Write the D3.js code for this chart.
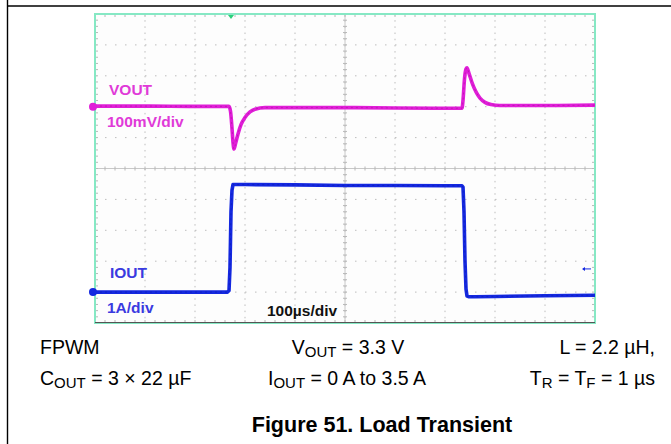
<!DOCTYPE html>
<html><head><meta charset="utf-8">
<script src="https://cdn.jsdelivr.net/npm/d3@7"></script>
<style>
html,body{margin:0;padding:0;background:#fff;}
svg{display:block;font-family:"Liberation Sans",Arial,sans-serif;}
</style></head>
<body>
<svg id="chart" width="671" height="444"></svg>
<script>
// ---- data ----
const voutTimeUs = [0, 100, 200, 268, 271, 274, 276, 278, 281, 286, 292, 300, 310, 320, 340, 400, 500, 600, 700, 734, 736, 739, 742, 744, 748, 754, 762, 770, 780, 792, 810, 850, 900, 1000];
const voutDevMv  = [2, 2, 1, 1, -15, -70, -115, -137, -120, -88, -58, -35, -17, -8, -3, -3, -3, -4, -5, -5, 20, 90, 122, 126, 108, 78, 48, 28, 14, 7, 4, 4, 4, 5];
const ioutTimeUs = [0, 100, 200, 265, 268, 270, 272, 274, 276, 300, 400, 500, 600, 700, 734, 736, 738, 740, 742, 744, 748, 760, 800, 900, 1000];
const ioutA      = [0, 0, 0, 0, 0.05, 0.8, 2.6, 3.3, 3.48, 3.48, 3.47, 3.45, 3.45, 3.44, 3.44, 3.4, 2.6, 1.0, 0.1, -0.13, -0.15, -0.15, -0.14, -0.12, -0.1];
const timeTicksUs = [0, 100, 200, 300, 400, 500, 600, 700, 800, 900, 1000];
const divTicks = [0, 1, 2, 3, 4, 5, 6, 7, 8, 9, 10];
const voutOffsetDiv = 3;      // VOUT reference marker position (divisions from top)
const ioutOffsetDiv = 9;      // IOUT zero marker position
const mvPerDiv = 100;
const aPerDiv = 1;
const triggerTimeUs = 272;
const triggerLevelA = 0.75;
const traceLabels = [
  {text: "VOUT", ch: "v", dx: 14, y: 95},
  {text: "100mV/div", ch: "v", dx: 12, y: 127},
  {text: "IOUT", ch: "i", dx: 15, y: 278},
  {text: "1A/div", ch: "i", dx: 12, y: 313}
];
const timebaseLabel = "100µs/div";

const svg = d3.select("#chart");
const L = 95, R = 595, T = 14, B = 323;
const x = d3.scaleLinear().domain([0, 1000]).range([L, R]);
const yd = d3.scaleLinear().domain([0, 10]).range([T, B]);
const yV = mv => yd(voutOffsetDiv - mv / mvPerDiv);
const yI = a => yd(ioutOffsetDiv - a / aPerDiv);

const MAG = "#e01ed8", BLUE = "#1428e0", FRAME = "#86e8c4", GRID = "#bdbdbd";

// page border
svg.append("line").attr("x1", 7).attr("x2", 671).attr("y1", 6).attr("y2", 6).attr("stroke", "#000").attr("stroke-width", 1.6);
svg.append("line").attr("x1", 7.5).attr("x2", 7.5).attr("y1", 0).attr("y2", 444).attr("stroke", "#000").attr("stroke-width", 1.4);

const g = svg.append("g");
g.append("rect").attr("x", L).attr("y", T).attr("width", R - L).attr("height", B - T).attr("fill", "#fdfdfd");

// dotted grid
g.selectAll(".vg").data(timeTicksUs.slice(1, -1)).join("line")
  .attr("x1", d => x(d)).attr("x2", d => x(d)).attr("y1", T).attr("y2", B)
  .attr("stroke", GRID).attr("stroke-width", 1).attr("stroke-dasharray", "1.5,4.68");
g.selectAll(".hg").data(divTicks.slice(1, -1)).join("line")
  .attr("x1", L).attr("x2", R).attr("y1", d => yd(d)).attr("y2", d => yd(d))
  .attr("stroke", GRID).attr("stroke-width", 1).attr("stroke-dasharray", "1.5,8.5");

// center axes with minor ticks
g.append("line").attr("x1", x(500)).attr("x2", x(500)).attr("y1", T).attr("y2", B).attr("stroke", "#c8c8c8").attr("stroke-width", 1);
g.append("line").attr("x1", L).attr("x2", R).attr("y1", yd(5)).attr("y2", yd(5)).attr("stroke", "#c8c8c8").attr("stroke-width", 1);
const minorX = d3.range(0, 1001, 20);
const minorY = d3.range(0, 10.01, 0.2);
g.selectAll(".mx").data(minorX).join("line")
  .attr("x1", d => x(d)).attr("x2", d => x(d)).attr("y1", yd(5) - 2).attr("y2", yd(5) + 2).attr("stroke", "#b8b8b8");
g.selectAll(".my").data(minorY).join("line")
  .attr("x1", x(500) - 2).attr("x2", x(500) + 2).attr("y1", d => yd(d)).attr("y2", d => yd(d)).attr("stroke", "#b8b8b8");
g.selectAll(".ex").data(minorX).join("line")
  .attr("x1", d => x(d)).attr("x2", d => x(d)).attr("y1", T).attr("y2", T + 3).attr("stroke", "#b8b8b8");
g.selectAll(".ex2").data(minorX).join("line")
  .attr("x1", d => x(d)).attr("x2", d => x(d)).attr("y1", B - 3).attr("y2", B).attr("stroke", "#b8b8b8");
g.selectAll(".ey").data(minorY).join("line")
  .attr("x1", L).attr("x2", L + 3).attr("y1", d => yd(d)).attr("y2", d => yd(d)).attr("stroke", "#b8b8b8");
g.selectAll(".ey2").data(minorY).join("line")
  .attr("x1", R - 3).attr("x2", R).attr("y1", d => yd(d)).attr("y2", d => yd(d)).attr("stroke", "#b8b8b8");

// frame
g.append("rect").attr("x", L).attr("y", T).attr("width", R - L).attr("height", B - T)
  .attr("fill", "none").attr("stroke", FRAME).attr("stroke-width", 2);
g.append("line").attr("x1", L).attr("x2", R).attr("y1", B - 0.5).attr("y2", B - 0.5).attr("stroke", "#555").attr("stroke-width", 1);

// traces
const vData = voutTimeUs.map((t, i) => [t, voutDevMv[i]]);
const iData = ioutTimeUs.map((t, i) => [t, ioutA[i]]);
const lineV = d3.line().x(d => x(d[0])).y(d => yV(d[1])).curve(d3.curveMonotoneX);
const lineI = d3.line().x(d => x(d[0])).y(d => yI(d[1])).curve(d3.curveLinear);
g.append("path").datum(vData).attr("d", lineV).attr("fill", "none").attr("stroke", MAG).attr("stroke-width", 3.6).attr("stroke-linejoin", "round");
g.append("path").datum(vData).attr("d", lineV).attr("fill", "none").attr("stroke", "#b0109e").attr("stroke-width", 1).attr("stroke-dasharray", "2,3").attr("opacity", 0.6);
g.append("path").datum(iData).attr("d", lineI).attr("fill", "none").attr("stroke", BLUE).attr("stroke-width", 3.6).attr("stroke-linejoin", "round");
g.append("path").datum(iData).attr("d", lineI).attr("fill", "none").attr("stroke", "#0a1aa0").attr("stroke-width", 1).attr("stroke-dasharray", "2,3").attr("opacity", 0.5);

// markers
g.append("circle").attr("cx", L - 2).attr("cy", yV(0)).attr("r", 4).attr("fill", MAG);
g.append("circle").attr("cx", L - 2).attr("cy", yI(0)).attr("r", 4).attr("fill", BLUE);
g.append("path").attr("d", `M${x(triggerTimeUs) - 3},${T + 1}L${x(triggerTimeUs) + 3},${T + 1}L${x(triggerTimeUs)},${T + 5}Z`).attr("fill", "#2bd07a");
g.append("line").attr("x1", R - 12).attr("x2", R - 4).attr("y1", yI(triggerLevelA)).attr("y2", yI(triggerLevelA)).attr("stroke", BLUE).attr("stroke-width", 1);
g.append("path").attr("d", `M${R - 13},${yI(triggerLevelA)}l3,-2l0,4Z`).attr("fill", BLUE);

// trace labels
g.selectAll(".tl").data(traceLabels).join("text")
  .attr("x", d => L + d.dx).attr("y", d => d.y)
  .attr("fill", d => d.ch === "v" ? "#e03ad8" : "#3a3ae0")
  .attr("font-size", 15.5).attr("font-weight", "bold").text(d => d.text);
g.append("text").attr("x", 267).attr("y", 316).attr("font-size", 15.5).attr("font-weight", "bold").attr("fill", "#111").text(timebaseLabel);

// caption
const cap = svg.append("g").attr("font-size", 19.5).attr("fill", "#000");
function sub(sel, parts) {
  parts.forEach(p => {
    const ts = sel.append("tspan").text(p[0]);
    if (p[1]) ts.attr("font-size", 15).attr("dy", 3);
    else if (p[2]) ts.attr("dy", -3);
  });
}
cap.append("text").attr("x", 40).attr("y", 354).text("FPWM");
sub(cap.append("text").attr("x", 348).attr("y", 354).attr("text-anchor", "middle"), [["V"], ["OUT", true], [" = 3.3 V", false, true]]);
cap.append("text").attr("x", 655).attr("y", 354).attr("text-anchor", "end").text("L = 2.2 µH,");
sub(cap.append("text").attr("x", 40).attr("y", 385), [["C"], ["OUT", true], [" = 3 × 22 µF", false, true]]);
sub(cap.append("text").attr("x", 347).attr("y", 385).attr("text-anchor", "middle"), [["I"], ["OUT", true], [" = 0 A to 3.5 A", false, true]]);
sub(cap.append("text").attr("x", 655).attr("y", 385).attr("text-anchor", "end"), [["T"], ["R", true], [" = T", false, true], ["F", true], [" = 1 µs", false, true]]);
svg.append("text").attr("x", 382).attr("y", 432).attr("text-anchor", "middle").attr("font-size", 21.5).attr("font-weight", "bold").text("Figure 51. Load Transient");
</script>
</body></html>
